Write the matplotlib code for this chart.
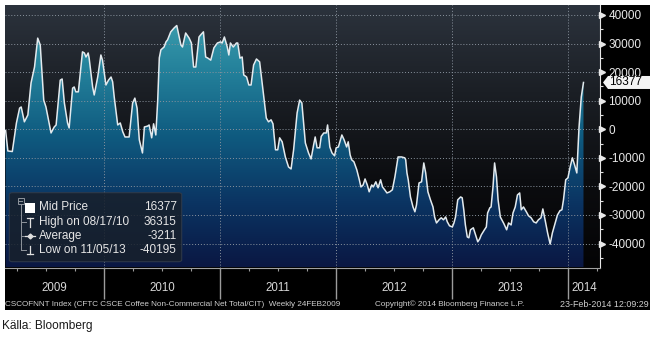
import numpy as np
import pandas as pd
import matplotlib
matplotlib.use('Agg')
import matplotlib.pyplot as plt
import matplotlib.dates as mdates
from matplotlib import font_manager
from matplotlib.colors import LinearSegmentedColormap
from matplotlib.patches import Rectangle, FancyBboxPatch, Polygon
from matplotlib.lines import Line2D
from matplotlib.path import Path
from matplotlib.ticker import MultipleLocator, FuncFormatter, NullFormatter

plt.rcParams['font.family'] = ['Liberation Sans', 'DejaVu Sans']
plt.rcParams['axes.unicode_minus'] = False

# CFTC coffee non-commercial net position
dates = [
    '2009-02-24', '2009-03-03', '2009-03-17', '2009-03-30', '2009-04-09', '2009-04-14',
    '2009-04-24', '2009-05-05', '2009-05-15', '2009-05-26', '2009-06-05', '2009-06-13',
    '2009-06-24', '2009-07-01', '2009-07-17', '2009-07-27', '2009-08-02', '2009-08-15',
    '2009-08-21', '2009-08-28', '2009-09-07', '2009-09-12', '2009-09-23', '2009-09-28',
    '2009-10-03', '2009-10-11', '2009-10-24', '2009-10-30', '2009-11-04', '2009-11-11',
    '2009-11-14', '2009-11-25', '2009-11-30', '2009-12-11', '2009-12-21', '2009-12-26',
    '2010-01-06', '2010-01-14', '2010-01-22', '2010-01-27', '2010-02-01', '2010-02-12',
    '2010-02-20', '2010-02-28', '2010-03-07', '2010-03-20', '2010-03-31', '2010-04-07',
    '2010-04-14', '2010-04-21', '2010-05-01', '2010-05-07', '2010-05-17', '2010-05-22',
    '2010-05-30', '2010-06-05', '2010-06-12', '2010-06-18', '2010-06-23', '2010-06-28',
    '2010-07-08', '2010-07-14', '2010-07-19', '2010-07-29', '2010-08-09', '2010-08-17',
    '2010-08-30', '2010-09-04', '2010-09-14', '2010-09-25', '2010-10-02', '2010-10-09',
    '2010-10-16', '2010-10-26', '2010-10-31', '2010-11-09', '2010-11-16', '2010-11-23',
    '2010-12-02', '2010-12-12', '2010-12-23',
    '2011-01-02', '2011-01-07', '2011-01-14', '2011-01-23', '2011-01-28', '2011-02-02',
    '2011-02-11', '2011-02-21', '2011-02-25', '2011-03-04', '2011-03-11', '2011-03-16',
    '2011-03-25', '2011-04-01', '2011-04-08', '2011-04-16', '2011-04-25', '2011-05-05',
    '2011-05-18', '2011-05-26', '2011-06-02', '2011-06-10', '2011-06-16', '2011-06-24',
    '2011-07-01', '2011-07-07', '2011-07-15', '2011-07-25', '2011-08-04', '2011-08-12',
    '2011-08-20', '2011-08-31', '2011-09-08', '2011-09-15', '2011-09-26', '2011-10-06',
    '2011-10-14', '2011-10-22', '2011-10-27', '2011-11-02', '2011-11-10', '2011-11-15',
    '2011-11-23', '2011-12-01', '2011-12-05', '2011-12-12', '2011-12-19', '2011-12-27',
    '2012-01-01', '2012-01-08', '2012-01-19', '2012-01-26', '2012-02-03', '2012-02-08',
    '2012-02-14', '2012-02-19', '2012-02-26', '2012-03-06', '2012-03-14', '2012-03-19',
    '2012-03-26', '2012-04-01', '2012-04-08', '2012-04-14', '2012-04-22', '2012-04-27',
    '2012-05-05', '2012-05-12', '2012-05-20', '2012-05-26', '2012-06-02', '2012-06-09',
    '2012-06-18', '2012-06-26', '2012-07-04', '2012-07-14', '2012-07-25', '2012-08-04',
    '2012-08-07', '2012-08-11', '2012-08-15', '2012-08-22', '2012-08-30', '2012-09-05',
    '2012-09-10', '2012-09-18', '2012-09-26', '2012-10-03', '2012-10-09', '2012-10-16',
    '2012-10-24', '2012-11-01', '2012-11-06', '2012-11-12', '2012-11-20', '2012-11-27',
    '2012-12-04', '2012-12-11', '2012-12-16', '2012-12-23',
    '2013-01-01', '2013-01-06', '2013-01-11', '2013-01-18', '2013-01-27', '2013-02-01',
    '2013-02-06', '2013-02-11', '2013-02-17', '2013-02-22', '2013-02-27', '2013-03-08',
    '2013-03-15', '2013-03-22', '2013-03-28', '2013-04-02', '2013-04-08', '2013-04-12',
    '2013-04-18', '2013-04-22', '2013-04-29', '2013-05-03', '2013-05-09', '2013-05-14',
    '2013-05-20', '2013-05-25', '2013-06-01', '2013-06-12', '2013-06-21', '2013-06-27',
    '2013-07-05', '2013-07-11', '2013-07-18', '2013-07-25', '2013-08-01', '2013-08-06',
    '2013-08-13', '2013-08-22', '2013-08-29', '2013-09-06', '2013-09-14', '2013-09-22',
    '2013-09-29', '2013-10-07', '2013-10-13', '2013-10-20', '2013-10-28', '2013-11-05',
    '2013-11-12', '2013-11-21', '2013-11-28', '2013-12-06', '2013-12-12', '2013-12-17',
    '2013-12-24', '2013-12-31',
    '2014-01-07', '2014-01-14', '2014-01-21', '2014-01-28', '2014-02-04', '2014-02-11',
    '2014-02-18',
]
net_pos = [
    -500, -7600, -7800, 2200, 7400, 7800,
    2600, 5000, 16200, 21800, 31900, 29500,
    10200, 7800, -1300, 800, 1500, 17200,
    17600, 9200, 2200, 450, 14400, 14800,
    13100, 13100, 27100, 26700, 25300, 26700,
    24900, 14800, 12000, 18300, 26000, 24200,
    15500, 17200, 18300, 16600, 11300, 1500,
    2200, -900, -2700, -2700, 9200, 10900,
    7400, -3700, -8300, 800, 1100, 1500,
    -3000, 1900, -2000, 10200, 25000, 27800,
    28800, 30600, 31300, 34100, 35500, 36315,
    29500, 28800, 33700, 31900, 30200, 21800,
    21800, 32300, 33000, 34100, 25300, 24900,
    24200, 28500, 30200,
    30600, 30200, 32300, 28800, 26000, 30200,
    28800, 30200, 30200, 24900, 25300, 19000,
    18300, 15500, 15500, 22500, 24600, 23600,
    11300, 3900, 2600, 3300, 1900, -7200,
    -7200, -3000, -4400, -9700, -13200, -13900,
    -7200, 5700, 10200, 9200, -4800, -8300,
    -10400, -5500, -2700, -6500, -6500, -2500,
    -1300, -1300, 1500, -6200, -8300, -9300,
    -6500, -6200, -2000, -3700, -6200, -4400,
    -9000, -10700, -11400, -14200, -17700, -20200,
    -19500, -17400, -19500, -21900, -19500, -20200,
    -18400, -20500, -17700, -20200, -21200, -22300,
    -21900, -21200, -16700, -9700, -9700, -10000,
    -10700, -15300, -17700, -23700, -27200, -28900,
    -26500, -18800, -18400, -11800, -15300, -21900,
    -24700, -27200, -30700, -32800, -31700, -31000,
    -31700, -30700, -32400, -33800,
    -34200, -32800, -30700, -24700, -23700, -24000,
    -28200, -33500, -37700, -38000, -35200, -34500,
    -37000, -39400, -38400, -37000, -35900, -35200,
    -34200, -29300, -27500, -27200, -20200, -11800,
    -16700, -24700, -30700, -33000, -35200, -32800,
    -33500, -29300, -27200, -23000, -22300, -28200,
    -27200, -28900, -30300, -31000, -32400, -32800,
    -31700, -31000, -27900, -31700, -36300, -40195,
    -36300, -32800, -30000, -28500, -28200, -24700,
    -17700, -17000,
    -13200, -10000, -12500, -15300, 800, 11300,
    16377,
]
years = [2009, 2010, 2011, 2012, 2013, 2014]
legend_labels = ['Mid Price', 'High on 08/17/10', 'Average', 'Low on 11/05/13']
legend_values = ['16377', '36315', '-3211', '-40195']
last_value = 16377
footer_left = 'CSCOFNNT Index (CFTC CSCE Coffee Non-Commercial Net Total/CIT)  Weekly 24FEB2009'
footer_mid = 'Copyright\u00a9 2014 Bloomberg Finance L.P.'
footer_right = '23-Feb-2014 12:09:29'
source = 'Källa: Bloomberg'

names = {f.name for f in font_manager.fontManager.ttflist}
narrow = 'Liberation Sans Narrow' if 'Liberation Sans Narrow' in names else 'Liberation Sans'

# pixel -> figure fraction
W, H = 655, 341
def fx(v):
    return v / W
def fy(v):
    return 1 - v / H

def fig_line(xs, ys, **kw):
    fig.add_artist(Line2D([fx(v) for v in xs], [fy(v) for v in ys],
                          transform=fig.transFigure, **kw))

fig = plt.figure(figsize=(6.55, 3.41), dpi=100)
fig.patch.set_facecolor('white')
fig.add_artist(Rectangle((fx(5), fy(310)), 645 / W, 305 / H, transform=fig.transFigure,
                         fc='black', ec='none', zorder=-10))

ax = fig.add_axes([fx(5), fy(267.5), 595 / W, 262.5 / H])
ax.patch.set_visible(False)

x = mdates.date2num(pd.to_datetime(dates))
y = np.array(net_pos, dtype=float)
x0 = mdates.date2num(pd.Timestamp('2009-02-22'))
x1 = mdates.date2num(pd.Timestamp('2014-04-11'))
ylo, yhi = -48400, 43500

# gradient background + gradient area fill clipped to the series
grad = np.linspace(0, 1, 256).reshape(-1, 1)
bg_cmap = LinearSegmentedColormap.from_list('bg', ['#2c333d', '#1b1f25', '#0c0d10', '#040405'])
fill_cmap = LinearSegmentedColormap.from_list('fill', ['#42a6b3', '#24819b', '#0f5b80', '#0b3563', '#0a1743'])
ax.imshow(grad, cmap=bg_cmap, extent=[x0, x1, ylo, yhi], aspect='auto', origin='upper', zorder=0)
im = ax.imshow(grad, cmap=fill_cmap, extent=[x0, x1, ylo, yhi], aspect='auto', origin='upper', zorder=1)
verts = np.column_stack([np.r_[x[0], x, x[-1]], np.r_[ylo, y, ylo]])
im.set_clip_path(Path(verts), ax.transData)
ax.plot(x, y, color='#e3eaee', lw=1.1, zorder=3)

ax.set_xlim(x0, x1)
ax.set_ylim(ylo, yhi)

ax.xaxis_date()
ax.xaxis.set_major_locator(mdates.YearLocator())
ax.xaxis.set_minor_locator(mdates.MonthLocator(bymonth=[4, 7, 10]))
ax.xaxis.set_major_formatter(NullFormatter())
ax.xaxis.set_minor_formatter(NullFormatter())
ax.tick_params(axis='x', which='major', direction='out', length=22, width=1, color='#9c9c9c')
ax.tick_params(axis='x', which='minor', direction='out', length=2.5, width=0.8, color='#9c9c9c')

ax.yaxis.tick_right()
ax.yaxis.set_major_locator(MultipleLocator(10000))
ax.yaxis.set_minor_locator(MultipleLocator(5000))
ax.yaxis.set_major_formatter(FuncFormatter(lambda v, p: f'{v:.0f}'))
ax.tick_params(axis='y', which='major', length=0, pad=6, labelsize=8.5, labelcolor='#e8e8e8')
ax.tick_params(axis='y', which='minor', direction='out', length=2.5, width=0.8, color='#e0e0e0')
ax.grid(True, which='major', color='#8a939e', ls=(0, (1, 2)), lw=0.7)
for s in ['top', 'left']:
    ax.spines[s].set_visible(False)
ax.spines['right'].set_color('#e6e6e6')
ax.spines['bottom'].set_color('#a0a0a0')

# triangle markers for the major y ticks
yt = np.arange(-40000, 40001, 10000)
ax.plot(np.full(len(yt), 1 + 2.2 / 595), yt, transform=ax.get_yaxis_transform(), ls='none',
        marker='>', ms=4.5, color='#e8e8e8', clip_on=False, zorder=5)

for yr in years:
    a = max(mdates.date2num(pd.Timestamp(f'{yr}-01-01')), x0)
    b = min(mdates.date2num(pd.Timestamp(f'{yr + 1}-01-01')), x1)
    ax.text((a + b) / 2, -0.078, str(yr), transform=ax.get_xaxis_transform(), ha='center',
            va='center', color='#d8d8d8', fontsize=8.3)

# legend box
fig.add_artist(FancyBboxPatch((fx(9.3), fy(261.7)), 172.4 / W, 69 / H,
                              boxstyle='round,pad=0,rounding_size=0.005', transform=fig.transFigure,
                              fc='#18202b', ec='#323c4a', alpha=0.85, lw=0.8))
rows = [207.5, 222, 236, 250]
tree = '#8f959d'
fig.add_artist(Rectangle((fx(17.5), fy(203.5)), 6 / W, 6 / H, transform=fig.transFigure,
                         fc='none', ec=tree, lw=0.7))
fig_line([19, 22], [200.5, 200.5], color=tree, lw=0.7)
fig_line([20.5, 20.5], [203.5, 250], color=tree, lw=0.7)
for r, end in zip(rows[1:], [26, 24, 26]):
    fig_line([20.5, end], [r, r], color=tree, lw=0.7)
fig.add_artist(Rectangle((fx(25), fy(212.5)), 10 / W, 10 / H, transform=fig.transFigure,
                         fc='white', ec='none'))
ic = '#e0e0e0'
fig_line([27, 33], [217.5, 217.5], color=ic, lw=0.9)
fig_line([30, 30], [217.5, 226.5], color=ic, lw=0.9)
fig_line([25, 30, 35], [236, 236, 236], color=ic, lw=0.9, marker='D', markevery=[1], ms=2.5)
fig_line([30, 30], [245.5, 254], color=ic, lw=0.9)
fig_line([27, 33], [254, 254], color=ic, lw=0.9)
for r, lab, val in zip(rows, legend_labels, legend_values):
    fig.text(fx(39), fy(r), lab, ha='left', va='center', color='#e6e6e6', fontsize=8.5)
    fig.text(fx(176.7), fy(r), val, ha='right', va='center', color='#e6e6e6', fontsize=8.5)

# last value tag
frac = (last_value - ylo) / (yhi - ylo)
ty = 267.5 - frac * 262.5
fig.add_artist(Polygon([(fx(603), fy(ty)), (fx(608), fy(ty - 6.5)), (fx(650), fy(ty - 6.5)),
                        (fx(650), fy(ty + 6.5)), (fx(608), fy(ty + 6.5))], closed=True,
                       transform=fig.transFigure, fc='#f4f4f4', ec='none'))
fig.text(fx(609), fy(ty), str(last_value), ha='left', va='center', color='black', fontsize=8.5)

# footer
t1 = fig.text(fx(5), fy(304.5), footer_left, ha='left', va='center', color='#cfcfcf', fontsize=6)
t2 = fig.text(fx(375), fy(304.5), footer_mid, ha='left', va='center', color='#cfcfcf', fontsize=6)
t3 = fig.text(fx(649), fy(304.5), footer_right, ha='right', va='center', color='#cfcfcf', fontsize=6)
t4 = fig.text(fx(2), fy(326), source, ha='left', va='center', color='#1a1a1a', fontsize=9, family=narrow)

renderer = fig.canvas.get_renderer()
for t, w in [(t1, 339), (t2, 151), (t3, 88), (t4, 91)]:
    cur = t.get_window_extent(renderer).width
    t.set_fontsize(t.get_fontsize() * w / cur)

fig.savefig('out.png', dpi=100)
